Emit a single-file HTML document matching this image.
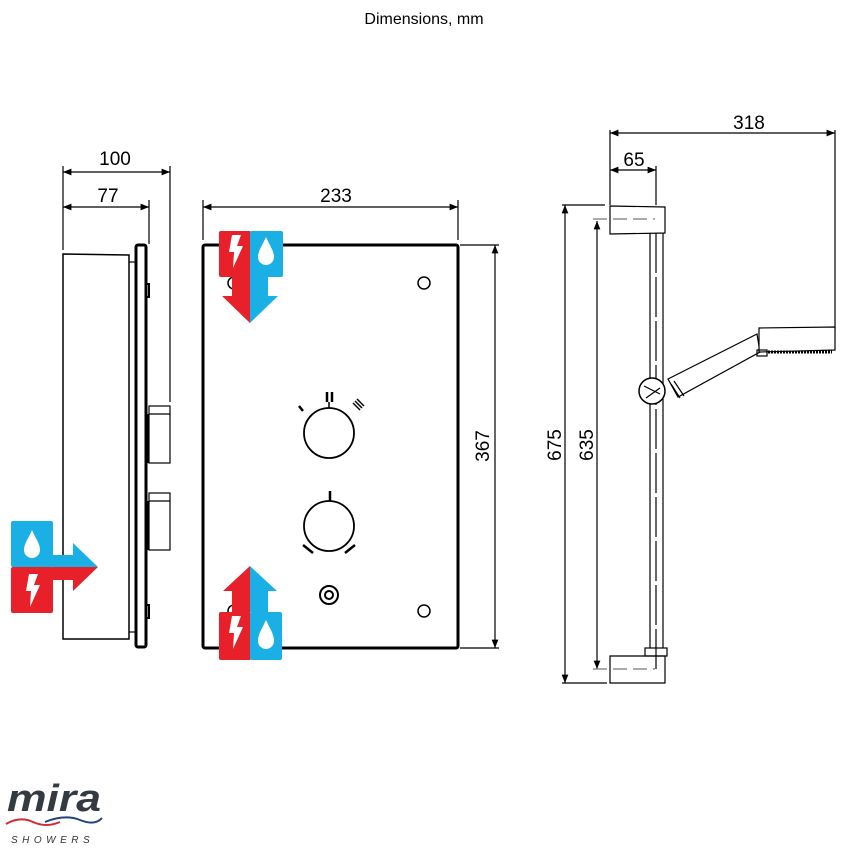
<!DOCTYPE html>
<html><head><style>
html,body{margin:0;padding:0;background:#fff;}
svg{display:block;font-family:"Liberation Sans",Arial,sans-serif;}
</style></head><body>
<svg width="850" height="850" viewBox="0 0 850 850" xmlns="http://www.w3.org/2000/svg">
<defs>
<marker id="a" viewBox="0 0 10 10" refX="10" refY="5" markerWidth="9" markerHeight="7" orient="auto-start-reverse"><path d="M0,1 L10,5 L0,9 z" fill="#000"/></marker>
</defs>
<text x="424" y="24" font-size="16" text-anchor="middle">Dimensions, mm</text>

<!-- SIDE VIEW -->
<g stroke="#000" fill="none" stroke-width="1.2">
<line x1="63" y1="166" x2="63" y2="250"/>
<line x1="170" y1="166" x2="170" y2="402"/>
<line x1="149" y1="200" x2="149" y2="244"/>
<line x1="63" y1="172" x2="170" y2="172" marker-start="url(#a)" marker-end="url(#a)"/>
<line x1="63" y1="207" x2="149" y2="207" marker-start="url(#a)" marker-end="url(#a)"/>
<path d="M63,254 L129,255 L129,639 L63,639 Z" stroke-width="1.5"/>
<rect x="136" y="245" width="10" height="402" rx="2" stroke-width="3"/>
<line x1="129" y1="262" x2="136" y2="262"/><line x1="129" y1="632" x2="136" y2="632"/>
<rect x="146" y="284" width="3" height="13" stroke-width="2"/>
<rect x="146" y="605" width="3" height="13" stroke-width="2"/>
<rect x="149" y="406" width="21" height="57"/><line x1="149" y1="414" x2="170" y2="414"/>
<rect x="149" y="493" width="21" height="57"/><line x1="149" y1="501" x2="170" y2="501"/>
<line x1="147" y1="414" x2="147" y2="463" stroke-width="3"/>
<line x1="147" y1="501" x2="147" y2="550" stroke-width="3"/>
</g>
<text x="115" y="165" font-size="19" text-anchor="middle">100</text>
<text x="108" y="202" font-size="19" text-anchor="middle">77</text>
<!-- side icon -->
<rect x="11" y="521" width="42" height="46" rx="2" fill="#1ab0e6"/>
<rect x="11" y="567" width="42" height="46" rx="2" fill="#e8202a"/>
<path d="M52,555 L73,555 L73,543 L98,567 L52,567 Z" fill="#1ab0e6"/>
<path d="M52,567 L98,567 L73,591 L73,580 L52,580 Z" fill="#e8202a"/>
<path d="M32,530 C28,539 24,544 24,550 A8,8 0 0 0 40,550 C40,544 36,539 32,530 Z" fill="#fff"/>
<path d="M29,574 L38,574 L34,585 L40,585 L30,607 L31,591 L26,591 Z" fill="#fff"/>

<!-- FRONT VIEW -->
<g stroke="#000" fill="none" stroke-width="1.2">
<line x1="203" y1="200" x2="203" y2="240"/>
<line x1="458" y1="200" x2="458" y2="240"/>
<line x1="203" y1="207" x2="458" y2="207" marker-start="url(#a)" marker-end="url(#a)"/>
<line x1="460" y1="245" x2="499" y2="245"/>
<line x1="460" y1="648" x2="499" y2="648"/>
<line x1="495" y1="245" x2="495" y2="648" marker-start="url(#a)" marker-end="url(#a)"/>
<rect x="203" y="245" width="255" height="403" rx="2" stroke-width="3"/>
<circle cx="424" cy="283" r="6" stroke-width="1.5"/>
<circle cx="424" cy="611" r="6" stroke-width="1.5"/>
<circle cx="234" cy="283" r="6" stroke-width="1.5"/>
<circle cx="234" cy="611" r="6" stroke-width="1.5"/>
<circle cx="329" cy="433" r="25" stroke-width="1.8"/>
<circle cx="329" cy="526" r="25" stroke-width="1.8"/>
<circle cx="329" cy="595" r="9" stroke-width="2"/>
<circle cx="329" cy="595" r="4" stroke-width="2"/>
<line x1="299" y1="406" x2="303" y2="411" stroke-width="2.5"/>
<line x1="303" y1="545" x2="313" y2="553" stroke-width="2.5"/>
<line x1="355" y1="545" x2="345" y2="553" stroke-width="2.5"/>
<line x1="330" y1="491" x2="330" y2="501" stroke-width="2.5"/>
<line x1="327" y1="392" x2="327" y2="402" stroke-width="2.5"/>
<line x1="332" y1="392" x2="332" y2="402" stroke-width="2.5"/>
<line x1="329" y1="402" x2="329" y2="408" stroke-width="1.5"/>
<line x1="353" y1="403" x2="360" y2="410" stroke-width="1.5"/>
<line x1="355" y1="401" x2="362" y2="408" stroke-width="1.5"/>
<line x1="357" y1="399" x2="364" y2="406" stroke-width="1.5"/>
</g>
<text x="336" y="202" font-size="19" text-anchor="middle">233</text>
<text transform="translate(489,446) rotate(-90)" font-size="19" text-anchor="middle">367</text>
<!-- top icon -->
<rect x="219" y="231" width="32" height="46" rx="2" fill="#e8202a"/>
<rect x="250" y="231" width="33" height="46" rx="2" fill="#1ab0e6"/>
<path d="M232,276 L250,276 L250,323 L222,296 L232,296 Z" fill="#e8202a"/>
<path d="M250,276 L268,276 L268,296 L278,296 L250,323 Z" fill="#1ab0e6"/>
<path d="M232,235 L241,235 L237,246 L243,246 L233,268 L234,252 L229,252 Z" fill="#fff"/>
<path d="M266,237 C262,246 258,251 258,257 A8,8 0 0 0 274,257 C274,251 270,246 266,237 Z" fill="#fff"/>
<!-- bottom icon -->
<path d="M250,566 L250,612 L232,612 L232,591 L223,591 Z" fill="#e8202a"/>
<path d="M250,566 L277,591 L268,591 L268,612 L250,612 Z" fill="#1ab0e6"/>
<rect x="219" y="612" width="32" height="48" rx="2" fill="#e8202a"/>
<rect x="250" y="612" width="32" height="48" rx="2" fill="#1ab0e6"/>
<path d="M232,616 L241,616 L237,627 L243,627 L233,649 L234,633 L229,633 Z" fill="#fff"/>
<path d="M266,620 C262,629 258,634 258,641 A8,8 0 0 0 274,641 C274,634 270,629 266,620 Z" fill="#fff"/>

<!-- RAIL VIEW -->
<g stroke="#000" fill="none" stroke-width="1.2">
<line x1="610" y1="130" x2="610" y2="205"/>
<line x1="656" y1="166" x2="656" y2="205"/>
<line x1="835" y1="130" x2="835" y2="330"/>
<line x1="610" y1="133" x2="835" y2="133" marker-start="url(#a)" marker-end="url(#a)"/>
<line x1="610" y1="170" x2="656" y2="170" marker-start="url(#a)" marker-end="url(#a)"/>
<line x1="562" y1="205" x2="605" y2="205"/>
<line x1="562" y1="683" x2="607" y2="683"/>
<line x1="565" y1="205" x2="565" y2="683" marker-start="url(#a)" marker-end="url(#a)"/>
<line x1="597" y1="221" x2="597" y2="669" marker-start="url(#a)" marker-end="url(#a)"/>
<path d="M610,206 L665,207 L665,233 L610,234 Z"/>
<line x1="593" y1="219" x2="655" y2="219" stroke="#777" stroke-dasharray="14,6"/>
<path d="M610,656 L665,656 L665,683 L610,683 Z"/>
<rect x="645" y="648" width="22" height="8"/>
<line x1="593" y1="669" x2="655" y2="669" stroke="#777" stroke-dasharray="14,6"/>
<line x1="650" y1="233" x2="650" y2="648"/>
<line x1="663" y1="233" x2="663" y2="648"/>
<line x1="656" y1="233" x2="656" y2="670" stroke-dasharray="40,4"/>
<path d="M668,379 L757,334 L760,352 L678,397 Z" fill="#fff"/>
<line x1="671" y1="384" x2="680" y2="398"/>
<line x1="674" y1="381" x2="684" y2="396"/>
<circle cx="652" cy="391" r="13" fill="#fff" stroke-width="1.5"/>
<line x1="644" y1="386" x2="660" y2="394"/>
<line x1="646" y1="398" x2="660" y2="388"/>
<path d="M759,328 L835,327 L835,350 L759,352 Z" fill="#fff"/>
<rect x="757" y="350" width="10" height="6"/>
<line x1="768" y1="352" x2="832" y2="352" stroke-width="3" stroke-dasharray="2,1"/>
</g>
<text x="749" y="129" font-size="19" text-anchor="middle">318</text>
<text x="634" y="166" font-size="19" text-anchor="middle">65</text>
<text transform="translate(561,445) rotate(-90)" font-size="19" text-anchor="middle">675</text>
<text transform="translate(593,445) rotate(-90)" font-size="19" text-anchor="middle">635</text>

<!-- LOGO -->
<text x="7" y="811" font-size="38" font-weight="bold" font-style="italic" fill="#333a42" textLength="94" lengthAdjust="spacingAndGlyphs">mira</text>
<path d="M6,824 Q20,816 33,822 T60,822" stroke="#d22a3a" stroke-width="2" fill="none"/>
<path d="M45,822 Q65,814 80,820 T102,818" stroke="#24417a" stroke-width="2" fill="none"/>
<text x="11" y="843" font-size="10" font-style="italic" fill="#333" letter-spacing="4.5">SHOWERS</text>
</svg>
</body></html>
